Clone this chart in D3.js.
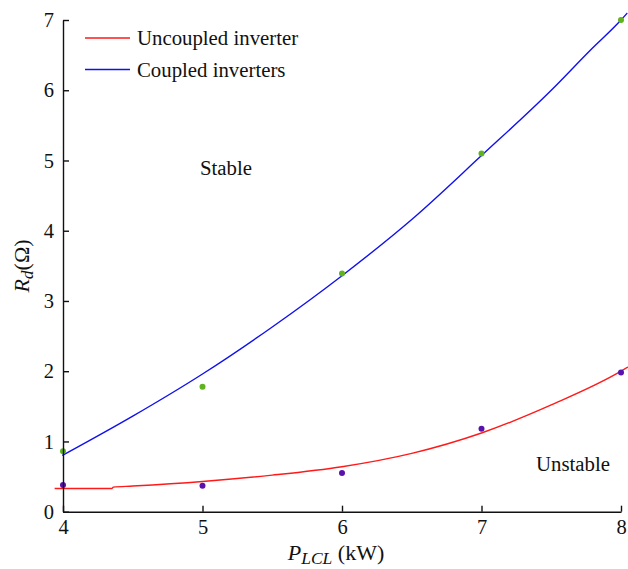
<!DOCTYPE html>
<html>
<head>
<meta charset="utf-8">
<script src="https://cdn.jsdelivr.net/npm/d3@7"></script>
<style>
  html, body { margin: 0; padding: 0; background: #fff; }
  svg { display: block; }
  text { font-family: "Liberation Serif", "Times New Roman", serif; fill: #111; }
</style>
</head>
<body>
<svg id="chart" width="628" height="569"></svg>
<script>
// Damping resistance boundary vs. LCL power
const xTicks = [4, 5, 6, 7, 8];
const yTicks = [0, 1, 2, 3, 4, 5, 6, 7];

// Uncoupled inverter boundary (kW, Ω)
const uncoupledP = [3.94, 4.35, 4.36, 4.50, 5.00, 5.50, 6.00, 6.50, 7.00, 7.50, 8.00, 8.05];
const uncoupledR = [0.33, 0.33, 0.35, 0.365, 0.43, 0.52, 0.64, 0.83, 1.12, 1.52, 2.00, 2.06];

// Coupled inverters boundary (kW, Ω)
const coupledP = [3.995, 4.50, 5.00, 5.50, 6.00, 6.50, 7.00, 7.50, 7.78, 8.00, 8.045];
const coupledR = [0.80, 1.36, 1.96, 2.63, 3.36, 4.16, 5.07, 6.00, 6.57, 7.00, 7.10];

// Measured points
const pointP = [4, 5, 6, 7, 8];
const coupledPts = [0.86, 1.78, 3.39, 5.10, 7.00];
const uncoupledPts = [0.38, 0.37, 0.55, 1.18, 1.98];

const svg = d3.select("#chart");
const x = d3.scaleLinear().domain([4, 8]).range([63, 621]);
const y = d3.scaleLinear().domain([0, 7]).range([511.7, 20]);

const line = d3.line().x(d => x(d[0])).y(d => y(d[1])).curve(d3.curveMonotoneX);

svg.append("path")
  .datum(d3.zip(uncoupledP, uncoupledR))
  .attr("d", line).attr("fill", "none")
  .attr("stroke", "#ff1a1a").attr("stroke-width", 1.4);

svg.append("path")
  .datum(d3.zip(coupledP, coupledR))
  .attr("d", line).attr("fill", "none")
  .attr("stroke", "#1010ee").attr("stroke-width", 1.4);

svg.append("g").selectAll("circle")
  .data(d3.zip(pointP, coupledPts)).join("circle")
  .attr("cx", d => x(d[0])).attr("cy", d => y(d[1])).attr("r", 3)
  .attr("fill", "#5fb31c");

svg.append("g").selectAll("circle")
  .data(d3.zip(pointP, uncoupledPts)).join("circle")
  .attr("cx", d => x(d[0])).attr("cy", d => y(d[1])).attr("r", 3)
  .attr("fill", "#5a12ad");

// Axes with inward ticks
const xAxis = svg.append("g").attr("transform", `translate(0,${y(0)})`)
  .call(d3.axisBottom(x).tickValues(xTicks).tickFormat(d3.format("d"))
    .tickSizeInner(-6).tickSizeOuter(0).tickPadding(8));
const yAxis = svg.append("g").attr("transform", `translate(${x(4)},0)`)
  .call(d3.axisLeft(y).tickValues(yTicks).tickFormat(d3.format("d"))
    .tickSizeInner(-6).tickSizeOuter(0).tickPadding(9));
[xAxis, yAxis].forEach(g => {
  g.select(".domain").attr("stroke", "#111").attr("stroke-width", 1.4);
  g.selectAll(".tick line").attr("stroke", "#111").attr("stroke-width", 1.4);
  g.selectAll(".tick text").attr("font-size", 20.5)
    .attr("font-family", "'Liberation Serif', 'Times New Roman', serif").attr("fill", "#111");
});

// Axis titles
const xt = svg.append("text").attr("x", 336).attr("y", 560)
  .attr("text-anchor", "middle").attr("font-size", 22);
xt.append("tspan").attr("font-style", "italic").text("P");
xt.append("tspan").attr("font-style", "italic").attr("font-size", 17.5).attr("dy", 4).text("LCL");
xt.append("tspan").attr("dy", -4).text(" (kW)");

const yt = svg.append("text").attr("transform", "translate(29,266) rotate(-90)")
  .attr("text-anchor", "middle").attr("font-size", 22);
yt.append("tspan").attr("font-style", "italic").text("R");
yt.append("tspan").attr("font-style", "italic").attr("font-size", 17.5).attr("dy", 4).text("d");
yt.append("tspan").attr("dy", -4).text("(Ω)");

// Region labels
svg.append("text").attr("x", 200).attr("y", 175).attr("font-size", 20.8).text("Stable");
svg.append("text").attr("x", 536).attr("y", 471).attr("font-size", 20.8).text("Unstable");

// Legend
const legend = [
  { label: "Uncoupled inverter", color: "#ff1a1a", yy: 38 },
  { label: "Coupled inverters", color: "#1010ee", yy: 69.5 }
];
const lg = svg.append("g");
legend.forEach(d => {
  lg.append("line").attr("x1", 85).attr("x2", 130).attr("y1", d.yy).attr("y2", d.yy)
    .attr("stroke", d.color).attr("stroke-width", 1.4);
  lg.append("text").attr("x", 137).attr("y", d.yy + 7).attr("font-size", 20.8).text(d.label);
});
</script>
</body>
</html>
